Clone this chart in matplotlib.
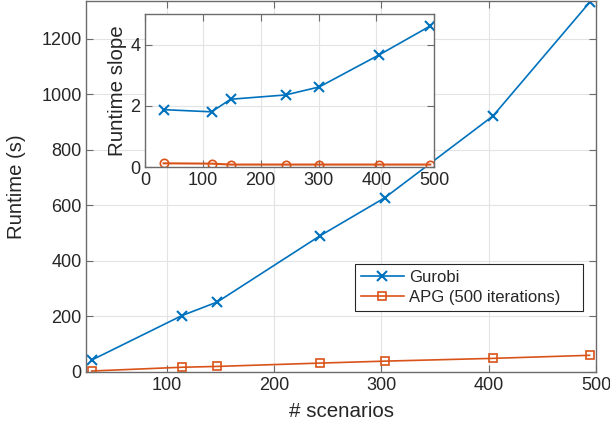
import matplotlib
matplotlib.use("Agg")
import matplotlib.pyplot as plt

plt.rcParams['font.family'] = ['Liberation Sans', 'DejaVu Sans']

scenarios = [30, 114, 147, 243, 303, 404, 494]
gurobi_runtime = [42, 202, 251, 490, 626, 921, 1330]
apg_runtime = [2.5, 16, 19, 31, 38, 48, 59]

slope_scenarios = [32, 115, 148, 243, 301, 404, 493]
gurobi_slope = [1.88, 1.81, 2.22, 2.36, 2.62, 3.66, 4.61]
apg_slope = [0.13, 0.12, 0.09, 0.09, 0.09, 0.09, 0.09]

main_xticks = [100, 200, 300, 400, 500]
main_yticks = [0, 200, 400, 600, 800, 1000, 1200]
inset_xticks = [0, 100, 200, 300, 400, 500]
inset_yticks = [0, 2, 4]

BLUE = '#0072BD'
ORANGE = '#D95319'
EDGE = '#6b6b6b'
TXT = '#262626'

def style(ax):
    for s in ax.spines.values():
        s.set_color(EDGE)
        s.set_linewidth(1.0)
    ax.tick_params(direction='in', top=True, right=True, length=5, width=0.8,
                   color=EDGE, labelcolor=TXT, labelsize=13)
    ax.grid(True, color='#e3e3e3', linewidth=0.8)
    ax.set_axisbelow(True)

fig = plt.figure(figsize=(6.1, 4.32), dpi=100)
ax = fig.add_axes([0.1416, 0.1396, 0.8354, 0.858])
style(ax)
ax.plot(scenarios, gurobi_runtime, '-x', color=BLUE, lw=1.2, ms=7, mew=1.5, label='Gurobi')
ax.plot(scenarios, apg_runtime, '-s', color=ORANGE, lw=1.2, ms=5.5, mew=1.2,
        mfc='none', label='APG (500 iterations)')
ax.set_xlim(25, 500)
ax.set_ylim(0, 1335)
ax.set_xticks(main_xticks)
ax.set_yticks(main_yticks)
ax.set_xlabel('# scenarios', fontsize=14.8, color=TXT, labelpad=6)
ax.set_ylabel('Runtime (s)', fontsize=14.6, color=TXT, labelpad=11)
leg = ax.legend(loc='upper left', bbox_to_anchor=(0.527, 0.16, 0.448, 0.13),
                mode='expand', borderaxespad=0,
                fontsize=12, fancybox=False, framealpha=1, edgecolor='#262626',
                handlelength=2.6, handletextpad=0.3, borderpad=0.35, labelspacing=0.3)
leg.get_frame().set_linewidth(0.8)
for t in leg.get_texts():
    t.set_color(TXT)

ins = fig.add_axes([0.2377, 0.6127, 0.4743, 0.3549])
style(ins)
ins.plot(slope_scenarios, gurobi_slope, '-x', color=BLUE, lw=1.2, ms=7, mew=1.5)
ins.plot(slope_scenarios, apg_slope, '-o', color=ORANGE, lw=1.5, ms=6, mew=1.2, mfc='none')
ins.set_xlim(0, 500)
ins.set_ylim(0, 5)
ins.set_xticks(inset_xticks)
ins.set_yticks(inset_yticks)
ins.set_ylabel('Runtime slope', fontsize=14.8, color=TXT, labelpad=2)

fig.savefig('out.png', dpi=100)
